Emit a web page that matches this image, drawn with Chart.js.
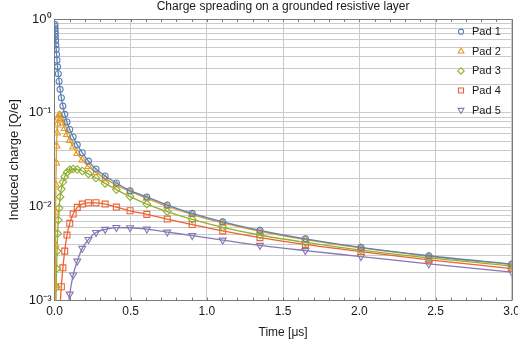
<!DOCTYPE html>
<html><head><meta charset="utf-8">
<script src="https://cdn.jsdelivr.net/npm/chart.js@4/dist/chart.umd.min.js"></script>
<style>html,body{margin:0;padding:0;background:#fff;overflow:hidden}#wrap{position:relative;width:518px;height:347px}</style>
</head><body><div id="wrap"><canvas id="c" width="518" height="347"></canvas></div>
<script>
// ---- data (time in µs, induced charge in Q/e) ----
const times = [0.0022,0.0027,0.0033,0.0041,0.0050,0.0061,0.0074,0.0091,0.0111,0.0136,0.0166,0.0202,0.0247,0.0302,0.0368,0.0450,0.0549,0.0671,0.0820,0.1001,0.1223,0.1494,0.1824,0.2228,0.2722,0.3324,0.4060,0.4959,0.6057,0.7398,0.9036,1.1036,1.3480,1.6464,2.0110,2.4562,3.0000];
const pad1 = [0.876,0.836,0.792,0.745,0.695,0.643,0.588,0.532,0.475,0.418,0.363,0.309,0.261,0.217,0.178,0.145,0.118,0.0964,0.0798,0.0664,0.0552,0.0456,0.0375,0.0306,0.0252,0.0212,0.0179,0.0148,0.0127,0.0104,0.00848,0.00689,0.00559,0.00454,0.00368,0.0030,0.00244];
const pad2 = [null,null,null,0.00049,0.00146,0.0039,0.00876,0.0170,0.0292,0.0443,0.0609,0.0760,0.0880,0.0947,0.0936,0.0869,0.0779,0.0680,0.0587,0.0507,0.0432,0.0368,0.0314,0.0268,0.0231,0.0199,0.0170,0.0145,0.0123,0.0101,0.00824,0.00672,0.00547,0.00446,0.00363,0.00296,0.00241];
const pad3 = [null,null,null,null,null,null,0.0005,0.00087,0.00139,0.00219,0.00336,0.00517,0.0072,0.00966,0.0127,0.0154,0.0183,0.0209,0.0232,0.0247,0.0252,0.0249,0.0240,0.0224,0.0202,0.0177,0.0152,0.0128,0.01066,0.00887,0.00732,0.00603,0.00499,0.00416,0.00345,0.00284,0.00233];
const pad4 = [null,null,null,null,null,null,null,null,null,null,null,null,null,0.00048,0.00089,0.0014,0.00223,0.00336,0.00498,0.00664,0.00834,0.00983,0.01066,0.0110,0.0110,0.01066,0.0099,0.00904,0.00828,0.00738,0.00645,0.00552,0.00468,0.00396,0.00332,0.00271,0.00219];
const pad5 = [null,null,null,null,null,null,null,null,null,null,null,null,null,null,null,null,null,null,0.00062,0.00117,0.00187,0.00263,0.00359,0.00446,0.0053,0.00573,0.00599,0.00596,0.00577,0.00536,0.00492,0.0044,0.00387,0.0034,0.00294,0.00246,0.00201];

const seriesNames = ['Pad 1','Pad 2','Pad 3','Pad 4','Pad 5'];
const seriesValues = [pad1, pad2, pad3, pad4, pad5];
const seriesColors = ['#5e81b5','#e19c24','#8fb032','#eb6235','#8778b3'];
const seriesMarkers = ['circle','triangle','rectRot','rect','triangle'];
const markerRotation = [0,0,0,0,180];
const markerRadius = [3,4,3.8,4.2,4];

const xTickValues = [0,0.5,1,1.5,2,2.5,3];
const xTickLabels = ['0.0','0.5','1.0','1.5','2.0','2.5','3.0'];
const yDecades = [0.001,0.01,0.1,1];
const yDecadeLabels = ['10\u207B\u00B3','10\u207B\u00B2','10\u207B\u00B9','10\u2070'];
const yMinorMultipliers = [2,3,4,5,6,7,8,9];
const xMinorStep = 0.1;

const chartTitle = 'Charge spreading on a grounded resistive layer';
const xTitle = 'Time [\u03BCs]';
const yTitle = 'Induced charge [Q/e]';

const FONT = "'Liberation Sans', Arial, Helvetica, sans-serif";
const TXT = '#1a1a1a';
const GRID = '#cbcbcb';
const FRAME = '#7a7a7a';

const datasets = seriesNames.map((name, i) => ({
  label: name,
  data: times.map((t, j) => ({x: t, y: seriesValues[i][j]})).filter(p => p.y !== null),
  borderColor: seriesColors[i],
  backgroundColor: seriesColors[i],
  borderWidth: 1.3,
  pointStyle: seriesMarkers[i],
  pointRotation: markerRotation[i],
  pointRadius: markerRadius[i],
  pointBorderWidth: 1.1,
  pointBorderColor: seriesColors[i],
  pointBackgroundColor: 'rgba(0,0,0,0)',
  cubicInterpolationMode: 'monotone',
  fill: false
}));

function drawMarker(ctx, style, rot, r, x, y) {
  ctx.beginPath();
  if (style === 'circle') {
    ctx.arc(x, y, r, 0, Math.PI * 2);
  } else if (style === 'rect') {
    const s = r * Math.SQRT1_2;
    ctx.rect(x - s, y - s, 2 * s, 2 * s);
  } else if (style === 'rectRot') {
    ctx.moveTo(x, y - r); ctx.lineTo(x + r, y); ctx.lineTo(x, y + r); ctx.lineTo(x - r, y); ctx.closePath();
  } else if (style === 'triangle') {
    let a = rot * Math.PI / 180;
    for (let k = 0; k < 3; k++) {
      const px = x + Math.sin(a) * r, py = y - Math.cos(a) * r;
      if (k === 0) ctx.moveTo(px, py); else ctx.lineTo(px, py);
      a += 2 * Math.PI / 3;
    }
    ctx.closePath();
  }
  ctx.stroke();
}

const framePlugin = {
  id: 'frameTicks',
  afterDraw(chart) {
    const {ctx, chartArea: a, scales} = chart;
    ctx.save();
    ctx.strokeStyle = FRAME;
    ctx.lineWidth = 1;
    ctx.beginPath();
    ctx.moveTo(a.left, Math.round(a.top) + 0.5); ctx.lineTo(a.right, Math.round(a.top) + 0.5);
    ctx.moveTo(Math.round(a.right) + 0.5, a.top); ctx.lineTo(Math.round(a.right) + 0.5, a.bottom);
    ctx.stroke();
    // inward minor ticks on x (top and bottom)
    ctx.beginPath();
    for (let v = xMinorStep; v < 3 - 1e-9; v += xMinorStep) {
      const px = Math.round(scales.x.getPixelForValue(v)) + 0.5;
      ctx.moveTo(px, a.bottom); ctx.lineTo(px, a.bottom - 3);
      ctx.moveTo(px, a.top); ctx.lineTo(px, a.top + 3);
    }
    ctx.stroke();
    // legend inside plot
    ctx.font = '11px ' + FONT;
    ctx.textBaseline = 'middle';
    ctx.textAlign = 'left';
    chart.data.datasets.forEach((ds, i) => {
      const y = a.top + 12.7 + i * 19.6;
      ctx.strokeStyle = ds.borderColor;
      ctx.lineWidth = 1.1;
      drawMarker(ctx, ds.pointStyle, ds.pointRotation, ds.pointRadius * 0.85, a.right - 50.7, y);
      ctx.fillStyle = TXT;
      ctx.fillText(ds.label, a.right - 39.7, y + 0.5);
    });
    ctx.restore();
  }
};

new Chart(document.getElementById('c'), {
  type: 'line',
  data: {datasets},
  plugins: [framePlugin],
  options: {
    responsive: false,
    animation: false,
    devicePixelRatio: 1,
    layout: {padding: {left: 0, right: 6.3, top: 0, bottom: 0}},
    plugins: {
      legend: {display: false},
      tooltip: {enabled: false},
      title: {
        display: true, text: chartTitle, fullSize: false,
        font: {family: FONT, size: 12, weight: 'normal', lineHeight: 1},
        color: TXT, padding: {top: 1, bottom: 6}
      }
    },
    scales: {
      x: {
        type: 'linear', min: 0, max: 3,
        afterBuildTicks: s => { s.ticks = xTickValues.map(v => ({value: v})); },
        ticks: {callback: (v, i) => xTickLabels[i], font: {family: FONT, size: 12}, color: TXT, padding: 4, maxRotation: 0, autoSkip: false},
        grid: {color: GRID, lineWidth: 1, drawTicks: false},
        border: {display: true, color: FRAME, width: 1},
        title: {display: true, text: xTitle, font: {family: FONT, size: 12}, color: TXT, padding: {top: 0, bottom: 7}},
        afterFit: s => { s.height = 46.5; s.paddingLeft = 0; s.paddingRight = 0; }
      },
      y: {
        type: 'logarithmic', min: 0.001, max: 1,
        afterBuildTicks: s => {
          const t = [];
          yDecades.forEach((d, j) => {
            t.push({value: d, major: true});
            if (j < yDecades.length - 1) yMinorMultipliers.forEach(m => t.push({value: d * m}));
          });
          s.ticks = t;
        },
        ticks: {
          callback: v => { const j = yDecades.findIndex(d => Math.abs(d - v) / d < 1e-6); return j >= 0 ? yDecadeLabels[j] : ''; },
          autoSkip: false, padding: 3, font: {family: FONT, size: 13}, color: TXT
        },
        grid: {color: GRID, lineWidth: 1, drawTicks: false},
        border: {display: true, color: FRAME, width: 1},
        title: {display: true, text: yTitle, font: {family: FONT, size: 13}, color: TXT, padding: {top: 7, bottom: 0}},
        afterFit: s => { s.width = 54.5; s.paddingTop = 0; s.paddingBottom = 0; }
      }
    }
  }
});
</script></body></html>
